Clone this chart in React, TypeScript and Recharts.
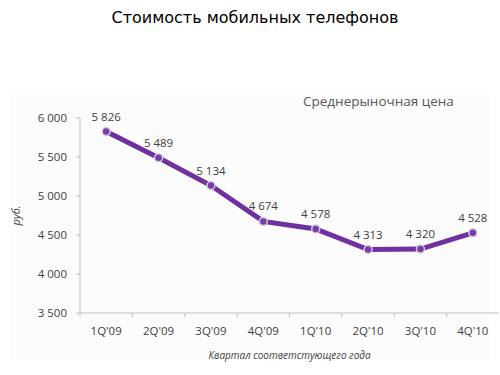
import React from "react";
import { LineChart, Line, XAxis, YAxis, LabelList, Label } from "recharts";

const quarters = ["1Q'09", "2Q'09", "3Q'09", "4Q'09", "1Q'10", "2Q'10", "3Q'10", "4Q'10"];
const avgPrice = [5826, 5489, 5134, 4674, 4578, 4313, 4320, 4528];
const yTicks = [3500, 4000, 4500, 5000, 5500, 6000];

const data = quarters.map((q, i) => ({ q, price: avgPrice[i] }));

const fmt = (v: number) => {
  const s = String(Math.round(v));
  return s.replace(/\B(?=(\d{3})+(?!\d))/g, " ");
};

const FONT = "'Open Sans', 'DejaVu Sans', sans-serif";

const XTick = (props: any) => {
  const { x, y, payload } = props;
  const off = payload && payload.offset ? payload.offset : 0;
  return (
    <g>
      <line x1={x - off} x2={x - off} y1={y - 8} y2={y - 4} stroke="#BFBFBF" strokeWidth={1} />
      <text x={x} y={y + 14} textAnchor="middle" fontSize={11.5} fill="#404040" fontFamily={FONT}>
        {payload.value}
      </text>
    </g>
  );
};

export default function App() {
  return (
    <div style={{ position: "absolute", left: 0, top: 0, width: 500, height: 375, background: "#fff", overflow: "hidden" }}>
      <div style={{ position: "absolute", left: 10, top: 93, width: 480, height: 267, background: "#FCFCFC" }} />
      <div
        style={{
          position: "absolute",
          left: 0,
          top: 8,
          width: 510,
          textAlign: "center",
          fontFamily: "'DejaVu Sans', sans-serif",
          fontSize: 16,
          color: "#000",
        }}
      >
        Стоимость мобильных телефонов
      </div>
      <div
        style={{
          position: "absolute",
          left: 303,
          top: 92,
          fontFamily: FONT,
          fontSize: 13.5,
          color: "#595959",
          whiteSpace: "nowrap",
        }}
      >
        Среднерыночная цена
      </div>
      <div style={{ position: "absolute", left: 0, top: 0 }}>
        <LineChart width={500} height={375} data={data} margin={{ top: 118, right: 1, bottom: 0, left: 0 }}>
          <XAxis
            dataKey="q"
            scale="band"
            height={62}
            stroke="#BFBFBF"
            tickLine={false}
            tick={<XTick />}
            interval={0}
          >
            <Label
              value="Квартал соответстующего года"
              position="insideBottom"
              offset={16}
              style={{ fontSize: 10, fontStyle: "italic", fill: "#404040", fontFamily: FONT }}
            />
          </XAxis>
          <YAxis
            width={80}
            domain={[3500, 6000]}
            ticks={yTicks}
            tickFormatter={fmt}
            stroke="#BFBFBF"
            tickSize={4}
            tickMargin={9}
            tick={{ fontSize: 11.5, fill: "#404040", fontFamily: FONT }}
            interval={0}
          >
            <Label
              value="руб."
              angle={-90}
              position="insideLeft"
              offset={16}
              style={{ fontSize: 11, fontStyle: "italic", fill: "#404040", fontFamily: FONT, textAnchor: "middle" }}
            />
          </YAxis>
          <Line
            type="linear"
            dataKey="price"
            stroke="#7030A0"
            strokeWidth={5}
            isAnimationActive={false}
            dot={{ r: 4, fill: "#7B3BB0", stroke: "#D0D0D0", strokeWidth: 1.5 }}
          >
            <LabelList
              dataKey="price"
              position="top"
              offset={11}
              formatter={(v: any) => fmt(Number(v))}
              style={{ fontSize: 11.5, fill: "#404040", fontFamily: FONT }}
            />
          </Line>
        </LineChart>
      </div>
    </div>
  );
}
